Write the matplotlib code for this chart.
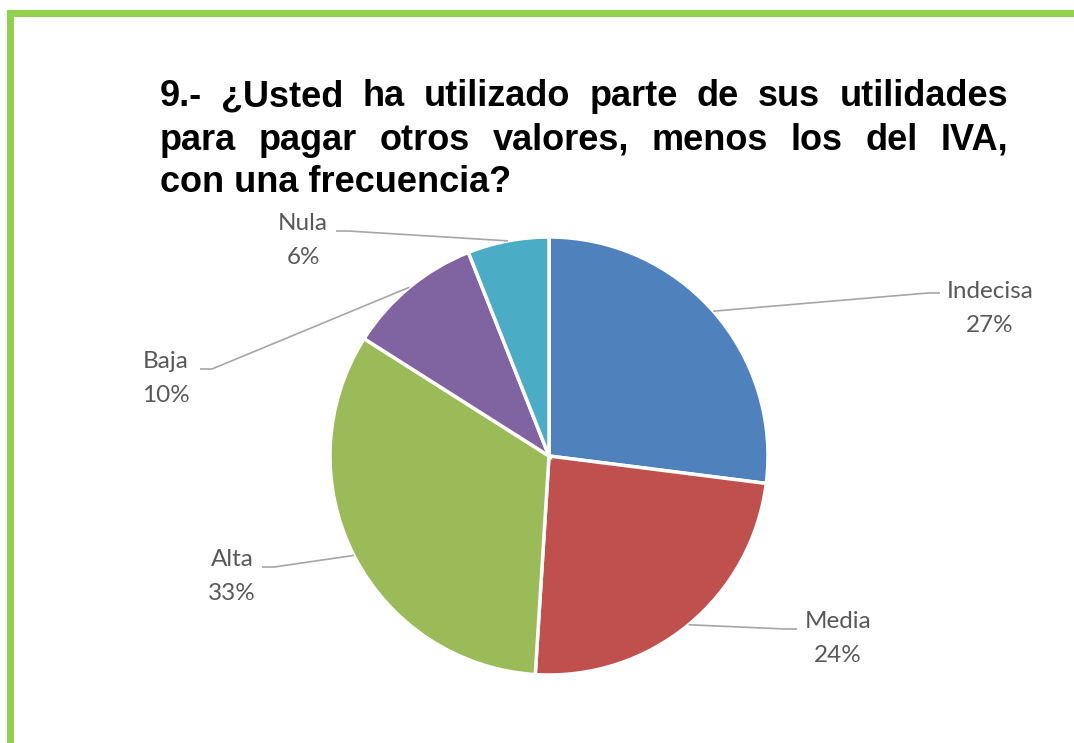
import numpy as np
import matplotlib.pyplot as plt
from matplotlib.patches import Rectangle

categories = ["Indecisa", "Media", "Alta", "Baja", "Nula"]
percent = [27, 24, 33, 10, 6]
colors = ["#4F81BD", "#C0504D", "#9BBB59", "#8064A2", "#4BACC6"]
title_lines = [
    "9.- ¿Usted ha utilizado parte de sus utilidades",
    "para pagar otros valores, menos los del IVA,",
    "con una frecuencia?",
]

W, H = 1074, 743
fig = plt.figure(figsize=(W / 100, H / 100), dpi=100)
ax = fig.add_axes([0, 0, 1, 1])

# green frame (top and left)
green = "#92D050"
ax.add_patch(Rectangle((7, 0), 7, H - 10, color=green, lw=0))
ax.add_patch(Rectangle((7, H - 17), W, 7, color=green, lw=0))

cx, cy, r = 549, H - 456, 219
wedges, _ = ax.pie(percent, colors=colors, startangle=90, counterclock=False,
                   center=(cx, cy), radius=r,
                   wedgeprops=dict(edgecolor="white", linewidth=2.5))
ax.set_xlim(0, W)
ax.set_ylim(0, H)
ax.set_aspect("equal")
ax.axis("off")

# label placement: text centre (px from top) and leader start
label_pos = {
    "Indecisa": ((990, 291), (940, 293)),
    "Media": ((838, 622), (797, 629)),
    "Alta": ((232, 560), (262, 567)),
    "Baja": ((166, 361), (200, 369)),
    "Nula": ((303, 224), (336, 231)),
}
lab_col = "#595959"
for w, name, p in zip(wedges, categories, percent):
    mid = np.deg2rad((w.theta1 + w.theta2) / 2)
    ax_, ay_ = cx + r * np.cos(mid), cy + r * np.sin(mid)
    (tx, ty), (lx, ly) = label_pos[name]
    ax.text(tx, H - ty, name, ha="center", va="center", fontsize=17.5,
            family="Lato", color=lab_col)
    ax.text(tx, H - ty - 34, f"{p}%", ha="center", va="center", fontsize=17.5,
            family="Lato", color=lab_col)
    hx = lx + (12 if lx < cx else -12)
    ax.plot([lx, hx, ax_], [H - ly, H - ly, ay_], color="#A6A6A6", lw=1.2,
            solid_capstyle="butt")

# justified title
fig.canvas.draw()
renderer = fig.canvas.get_renderer()
x0, x1 = 160, 1008
ys = [97, 140, 183]
fs = 26
for i, line in enumerate(title_lines):
    y = H - ys[i]
    if i == len(title_lines) - 1:
        ax.text(x0, y, line, ha="left", va="center", fontsize=fs,
                fontweight="bold", family="Liberation Sans", color="black")
        continue
    words = line.split(" ")
    widths = []
    for wd in words:
        t = ax.text(0, 0, wd, fontsize=fs, fontweight="bold",
                    family="Liberation Sans")
        bb = t.get_window_extent(renderer)
        widths.append(bb.width)
        t.remove()
    gap = (x1 - x0 - sum(widths)) / (len(words) - 1)
    x = x0
    for wd, wdt in zip(words, widths):
        ax.text(x, y, wd, ha="left", va="center", fontsize=fs,
                fontweight="bold", family="Liberation Sans", color="black")
        x += wdt + gap

fig.savefig("out.png", dpi=100)
